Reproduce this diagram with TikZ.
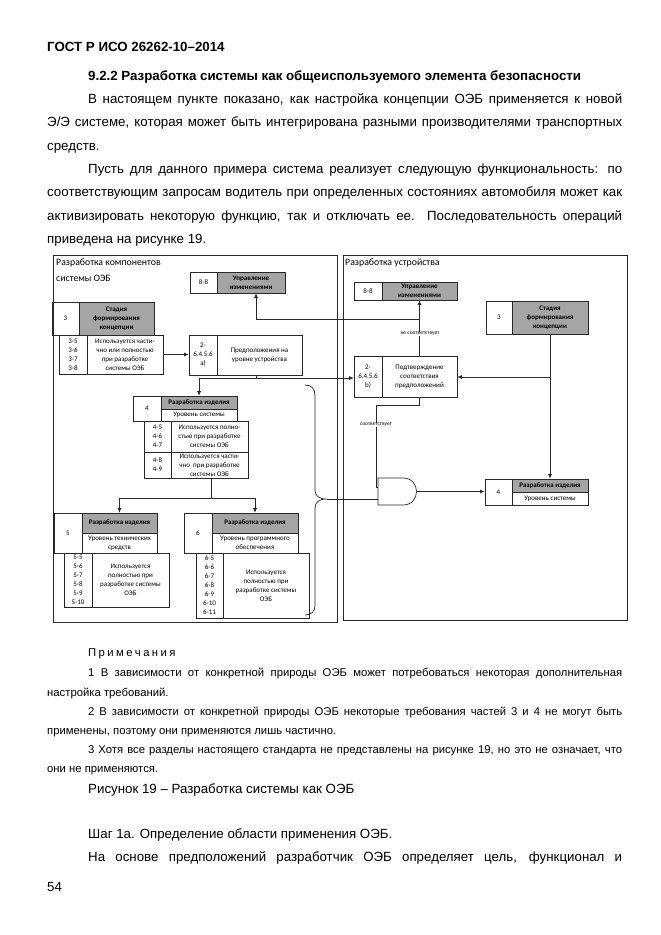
\documentclass[tikz,border=0pt]{standalone}
\usepackage{fontspec}
\setmainfont{Liberation Sans}
\newfontfamily\calib{Carlito}
\usetikzlibrary{arrows.meta}
\definecolor{hdr}{RGB}{165,165,165}
\definecolor{ln}{RGB}{40,40,40}
\newcommand\cellbox[7]{\node[cell,#6,minimum width={(#4-#2)*1pt},minimum height={(#5-#3)*1pt}] (#1) at ({(#2+#4)/2},{(#3+#5)/2}) {#7};}
\begin{document}
\begin{tikzpicture}[x=1pt,y=-1pt,
  cell/.style={draw=ln,line width=0.6pt,inner sep=0pt,align=center,font=\calib\fontsize{7}{9}\selectfont},
  hd/.style={fill=hdr,font=\calib\bfseries\fontsize{7}{9}\selectfont},
  arr/.style={draw=ln,line width=0.7pt,-{Latex[length=4.5pt,width=4pt]}},
  con/.style={draw=ln,line width=0.7pt},
  frame/.style={draw=ln,line width=0.9pt},
  body/.style={anchor=base west,inner sep=0pt,font=\fontsize{13.3}{16}\selectfont},
  note/.style={anchor=base west,inner sep=0pt,font=\fontsize{11.3}{13}\selectfont},
  tiny/.style={font=\calib\fontsize{5.5}{6}\selectfont,inner sep=0.5pt,fill=white},
  flabel/.style={anchor=north west,inner sep=0pt,align=left,font=\calib\fontsize{9.8}{15.5}\selectfont}
]
\useasboundingbox[fill=white] (0,0) rectangle (661,935);

% ---------- body text ----------
\node[body] (t0) at (47,51) {\bfseries ГОСТ Р ИСО 26262-10–2014};
\node[body] (t1) at (88,80.5) {\bfseries 9.2.2 Разработка системы как общеиспользуемого элемента безопасности};
\node[body] (t2) at (88,103.4) {\makebox[534pt][s]{В настоящем пункте показано, как настройка концепции ОЭБ применяется к новой}};
\node[body] (t3) at (47,126.7) {\makebox[575pt][s]{Э/Э системе, которая может быть интегрирована разными производителями транспортных}};
\node[body] (t4) at (47,150) {средств.};
\node[body] (t5) at (88,173.3) {\makebox[534pt][s]{Пусть для данного примера система реализует следующую функциональность: по}};
\node[body] (t6) at (47,196.7) {\makebox[575pt][s]{соответствующим запросам водитель при определенных состояниях автомобиля может как}};
\node[body] (t7) at (47,220) {\makebox[575pt][s]{активизировать некоторую функцию, так и отключать ее. Последовательность операций}};
\node[body] (t8) at (47,243.3) {приведена на рисунке 19.};

% ---------- frames ----------
\draw[frame] (53,255) rectangle (337,622);
\draw[frame] (343,255) rectangle (627,620);
\node[flabel] (lfl) at (56,259) {Разработка компонентов\\системы ОЭБ};
\node[flabel] (rfl) at (345,259) {Разработка устройства};

% ---------- left part ----------
\cellbox{L88n}{190}{272}{217}{293}{}{8-8}
\cellbox{L88t}{217}{272}{285}{293}{hd}{Управление\\изменениями}
\cellbox{L3n}{52}{302}{79}{335}{}{3}
\cellbox{L3t}{79}{302}{154}{335}{hd}{Стадия\\формирования\\концепции}
\cellbox{L3a}{59}{335}{87}{374}{}{3-5\\3-6\\3-7\\3-8}
\cellbox{L3b}{87}{335}{163}{374}{}{Используется части-\\чно или полностью\\при разработке\\системы ОЭБ}
\cellbox{Aa}{189}{335}{217}{375}{}{2-\\6.4.5.6\\a)}
\cellbox{Ab}{217}{335}{302}{375}{}{Предположения на\\уровне устройства}
\cellbox{B4n}{133}{396}{161}{421}{}{4}
\cellbox{B4t}{161}{396}{237}{409}{hd}{Разработка изделия}
\cellbox{B4s}{161}{409}{237}{421}{}{Уровень системы}
\cellbox{T4a1}{144}{421}{171}{452}{}{4-5\\4-6\\4-7}
\cellbox{T4b1}{171}{421}{248}{452}{}{Используется полно-\\стью при разработке\\системы ОЭБ}
\cellbox{T4a2}{144}{452}{171}{478}{}{4-8\\4-9}
\cellbox{T4b2}{171}{452}{248}{478}{}{Используется части-\\чно\ \ при разработке\\системы ОЭБ}
\cellbox{B5n}{54}{513}{82}{553}{}{5}
\cellbox{B5t}{82}{513}{157}{533}{hd}{Разработка изделия}
\cellbox{B5s}{82}{533}{157}{553}{}{Уровень технических\\средств}
\cellbox{T5a}{64}{553}{92}{607}{}{5-5\\5-6\\5-7\\5-8\\5-9\\5-10}
\cellbox{T5b}{92}{553}{169}{607}{}{Используется\\полностью при\\разработке системы\\ОЭБ}
\cellbox{B6n}{184}{513}{212}{553}{}{6}
\cellbox{B6t}{212}{513}{298}{533}{hd}{Разработка изделия}
\cellbox{B6s}{212}{533}{298}{553}{}{Уровень программного\\обеспечения}
\cellbox{T6a}{196}{553}{223}{618}{}{6-5\\6-6\\6-7\\6-8\\6-9\\6-10\\6-11}
\cellbox{T6b}{223}{553}{309}{618}{}{Используется\\полностью при\\разработке системы\\ОЭБ}

% ---------- right part ----------
\cellbox{R88n}{354}{282}{382}{300}{}{8-8}
\cellbox{R88t}{382}{282}{457}{300}{hd}{Управление\\изменениями}
\cellbox{R3n}{486}{301}{512}{334}{}{3}
\cellbox{R3t}{512}{301}{588}{334}{hd}{Стадия\\формирования\\концепции}
\cellbox{Bn}{354}{356}{382}{397}{}{2-\\6.4.5.6\\b)}
\cellbox{Bt}{382}{356}{457}{397}{}{Подтверждение\\соответствия\\предположений}
\cellbox{R4n}{485}{479}{512}{505}{}{4}
\cellbox{R4t}{512}{479}{588}{492}{hd}{Разработка изделия}
\cellbox{R4s}{512}{492}{588}{505}{}{Уровень системы}

% AND gate
\draw[con,fill=white] (378,478) -- (403,478) .. controls (421,478) and (421,505) .. (403,505) -- (378,505) -- cycle;
\coordinate (gin1) at (378,487);
\coordinate (gin2) at (378,499);
\coordinate (gout) at (416.5,491.5);

% ---------- connectors ----------
\draw[arr] (L3b.east) -- (L3b.east -| Aa.west);
\coordinate (J) at (256,378);
\draw[con] (J |- Ab.south) -- (J);
\draw[arr] (J) -| (B4t.north);
\draw[arr] (J) -- (J -| Bn.west);
\coordinate (K) at (211,498);
\draw[con] (K |- T4b2.south) -- (K);
\draw[arr] (K) -| (B5t.north);
\draw[arr] (K) -| (B6t.north);

\coordinate (N) at (419.5,319);
\draw[arr] (Bt.north) -- (R88t.south);
\draw[arr] (N) -| ([xshift=5pt]L88t.south);
\node[tiny] (nl) at (420,334) {не соответствует};

\coordinate (M) at (550,377);
\draw[arr] (R3t.south) -- (R4t.north);
\draw[arr] (M) -- (M -| Bt.east);

\draw[con] (Bt.south) -- ++(0,8) -| (376,487) -- (gin1);
\node[tiny] (sl) at (376,425) {соответствует};

% brace
\draw[con] (305,385) .. controls (312,385) and (315,389) .. (315,396) -- (315,490)
  .. controls (315,496) and (319,499) .. (327,499)
  .. controls (319,499) and (315,502) .. (315,508) -- (315,605)
  .. controls (315,611) and (312,615) .. (305,615);
\coordinate (bt) at (327,499);
\draw[con] (bt) -- (gin2);
\draw[arr,line width=1.4pt] (gout) -- (gout -| R4n.west);

% ---------- notes ----------
\node[note] (n0) at (88,656.7) {\spaceskip=2.4pt П р и м е ч а н и я};
\node[note] (n1) at (88,676) {\makebox[534pt][s]{1 В зависимости от конкретной природы ОЭБ может потребоваться некоторая дополнительная}};
\node[note] (n1b) at (47,696.7) {настройка требований.};
\node[note] (n2) at (88,715) {\makebox[534pt][s]{2 В зависимости от конкретной природы ОЭБ некоторые требования частей 3 и 4 не могут быть}};
\node[note] (n2b) at (47,734.3) {применены, поэтому они применяются лишь частично.};
\node[note] (n3) at (88,753.3) {\makebox[534pt][s]{3 Хотя все разделы настоящего стандарта не представлены на рисунке 19, но это не означает, что}};
\node[note] (n3b) at (47,772.7) {они не применяются.};
\node[body] (cap) at (88,793.3) {Рисунок 19 – Разработка системы как ОЭБ};
\node[body] (s1) at (88,838.3) {Шаг 1а. Определение области применения ОЭБ.};
\node[body] (s2) at (88,861.7) {\makebox[534pt][s]{На основе предположений разработчик ОЭБ определяет цель, функционал и}};
\node[body] (pg) at (47,891.7) {54};
\end{tikzpicture}
\end{document}
